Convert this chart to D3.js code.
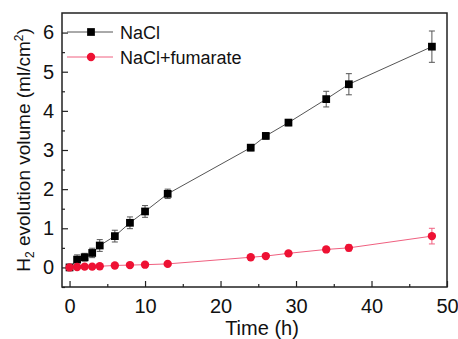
<!DOCTYPE html>
<html>
<head>
<meta charset="utf-8">
<script src="https://cdn.jsdelivr.net/npm/d3@7"></script>
<style>
body { margin:0; background:#fff; }
text { font-family: "Liberation Sans", Arial, sans-serif; fill:#111; }
</style>
</head>
<body>
<div id="chart"></div>
<script>
// time points (h)
var timeNaCl = [0, 1, 2, 3, 4, 6, 8, 10, 13, 24, 26, 29, 34, 37, 48];
var volNaCl  = [0, 0.20, 0.26, 0.37, 0.56, 0.80, 1.14, 1.43, 1.88, 3.06, 3.36, 3.70, 4.30, 4.68, 5.64];
var errNaCl  = [0, 0.12, 0.10, 0.12, 0.15, 0.15, 0.15, 0.15, 0.12, 0.08, 0.08, 0.08, 0.20, 0.27, 0.40];

var timeFum = [0, 1, 2, 3, 4, 6, 8, 10, 13, 24, 26, 29, 34, 37, 48];
var volFum  = [0, 0.01, 0.02, 0.02, 0.03, 0.05, 0.06, 0.07, 0.09, 0.26, 0.29, 0.36, 0.46, 0.50, 0.80];
var errFum  = [0, 0, 0, 0, 0, 0.03, 0.03, 0.03, 0.03, 0.04, 0.04, 0.04, 0.06, 0.08, 0.20];

var xTicks = [0, 10, 20, 30, 40, 50];
var yTicks = [0, 1, 2, 3, 4, 5, 6];

var W = 458, H = 339;
var margin = {left: 62, right: 11, top: 13, bottom: 52};

var svg = d3.select("#chart").append("svg")
    .attr("width", W)
    .attr("height", H);

var x = d3.scaleLinear().domain([-1, 50]).range([margin.left, W - margin.right]);
var y = d3.scaleLinear().domain([-0.5, 6.5]).range([H - margin.bottom, margin.top]);

// frame
svg.append("rect")
    .attr("x", margin.left).attr("y", margin.top)
    .attr("width", W - margin.right - margin.left)
    .attr("height", H - margin.bottom - margin.top)
    .attr("fill", "none").attr("stroke", "#222").attr("stroke-width", 1.5);

// x axis, ticks inward
var xAxis = svg.append("g")
    .attr("transform", "translate(0," + (H - margin.bottom) + ")")
    .call(d3.axisBottom(x).tickValues(xTicks).tickSize(-6).tickPadding(12).tickFormat(d3.format("d")));
xAxis.select(".domain").remove();
xAxis.selectAll("text").style("font-size", "20px").attr("fill", "#111");
svg.append("g")
    .attr("transform", "translate(0," + (H - margin.bottom) + ")")
    .call(d3.axisBottom(x).tickValues([5, 15, 25, 35, 45]).tickSize(-3).tickFormat(""))
    .select(".domain").remove();

var yAxis = svg.append("g")
    .attr("transform", "translate(" + margin.left + ",0)")
    .call(d3.axisLeft(y).tickValues(yTicks).tickSize(-6).tickPadding(8).tickFormat(d3.format("d")));
yAxis.select(".domain").remove();
yAxis.selectAll("text").style("font-size", "20px").attr("fill", "#111");
svg.append("g")
    .attr("transform", "translate(" + margin.left + ",0)")
    .call(d3.axisLeft(y).tickValues([-0.5, 0.5, 1.5, 2.5, 3.5, 4.5, 5.5]).tickSize(-3).tickFormat(""))
    .select(".domain").remove();
svg.selectAll(".tick line").attr("stroke", "#222").attr("stroke-width", 1.2);

// axis titles
svg.append("text")
    .attr("x", 262).attr("y", 335)
    .attr("text-anchor", "middle")
    .style("font-size", "20px")
    .text("Time (h)");

var yl = svg.append("text")
    .attr("transform", "translate(30," + ((margin.top + H - margin.bottom) / 2) + ") rotate(-90)")
    .attr("text-anchor", "middle")
    .style("font-size", "19px");
yl.append("tspan").text("H");
yl.append("tspan").attr("dy", 4).style("font-size", "12px").text("2");
yl.append("tspan").attr("dy", -4).text(" evolution volume (ml/cm");
yl.append("tspan").attr("dy", -7).style("font-size", "12px").text("2");
yl.append("tspan").attr("dy", 7).text(")");

function drawSeries(ts, vs, es, lineColor, markColor, shape) {
    var pts = ts.map(function(t, i) { return {t: t, v: vs[i], e: es[i]}; });
    svg.append("path")
        .datum(pts)
        .attr("fill", "none")
        .attr("stroke", lineColor)
        .attr("stroke-width", 1)
        .attr("d", d3.line().x(function(d) { return x(d.t); }).y(function(d) { return y(d.v); }));

    var eb = svg.append("g").attr("stroke", lineColor).attr("stroke-width", 1);
    pts.filter(function(d) { return d.e > 0; }).forEach(function(d) {
        eb.append("line").attr("x1", x(d.t)).attr("x2", x(d.t))
            .attr("y1", y(d.v - d.e)).attr("y2", y(d.v + d.e));
        [d.v - d.e, d.v + d.e].forEach(function(v) {
            eb.append("line").attr("x1", x(d.t) - 3).attr("x2", x(d.t) + 3)
                .attr("y1", y(v)).attr("y2", y(v));
        });
    });

    svg.append("g").selectAll("path")
        .data(pts)
        .enter()
        .append("path")
        .attr("transform", function(d) { return "translate(" + x(d.t) + "," + y(d.v) + ")"; })
        .attr("d", d3.symbol().type(shape).size(shape === d3.symbolSquare ? 60 : 55))
        .attr("fill", markColor);
}

drawSeries(timeNaCl, volNaCl, errNaCl, "#555", "#000", d3.symbolSquare);
drawSeries(timeFum, volFum, errFum, "#f06080", "#ee1133", d3.symbolCircle);

// legend
var legend = [
    {name: "NaCl", line: "#555", mark: "#000", shape: d3.symbolSquare, ly: 32},
    {name: "NaCl+fumarate", line: "#f06080", mark: "#ee1133", shape: d3.symbolCircle, ly: 57}
];
legend.forEach(function(l) {
    svg.append("line").attr("x1", 67).attr("x2", 113).attr("y1", l.ly).attr("y2", l.ly)
        .attr("stroke", l.line).attr("stroke-width", 1);
    svg.append("path").attr("transform", "translate(91," + l.ly + ")")
        .attr("d", d3.symbol().type(l.shape).size(l.shape === d3.symbolSquare ? 60 : 55)).attr("fill", l.mark);
    svg.append("text").attr("x", 120).attr("y", l.ly + 7)
        .style("font-size", "18px").text(l.name);
});
</script>
</body>
</html>
